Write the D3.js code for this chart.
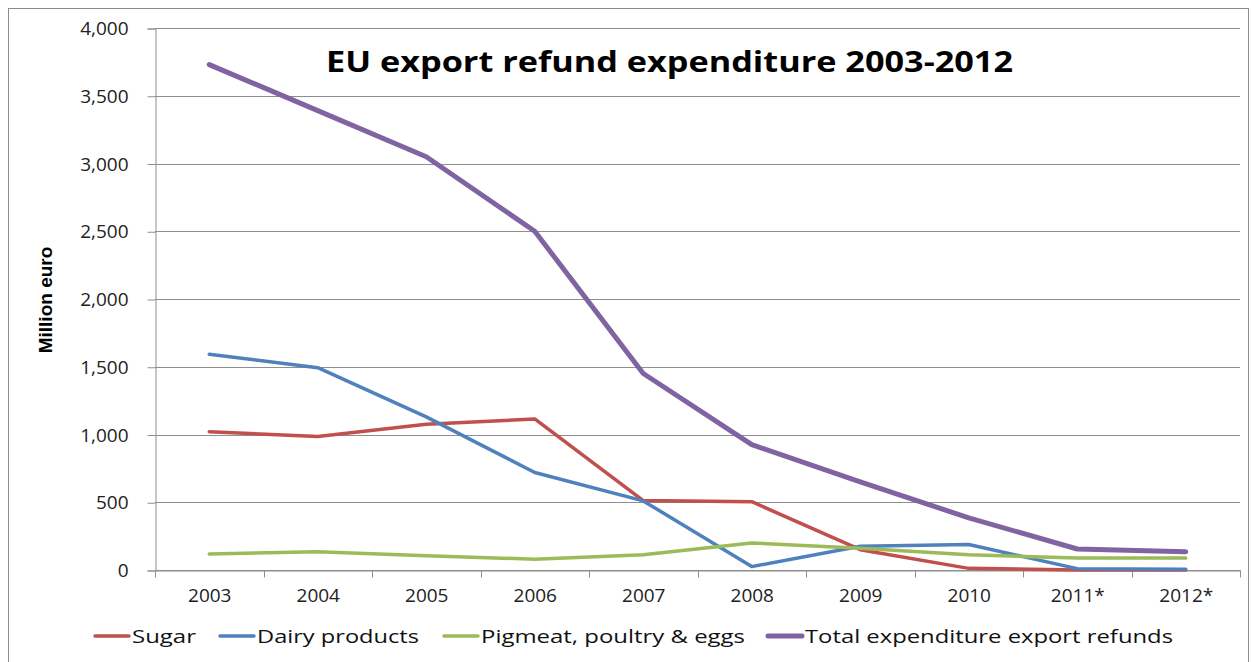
<!DOCTYPE html>
<html>
<head>
<meta charset="utf-8">
<script src="https://cdn.jsdelivr.net/npm/d3@7"></script>
<style>
  body { margin: 0; background: #fff; }
  svg { display: block; }
  .tick text { font-family: "Open Sans", "DejaVu Sans", sans-serif; }
</style>
</head>
<body>
<div id="chart"></div>
<script>
// data (million euro)
const years = ['2003', '2004', '2005', '2006', '2007', '2008', '2009', '2010', '2011*', '2012*'];
const sugar = [1020, 985, 1075, 1115, 512, 504, 150, 12, 0, 0];
const dairy = [1592, 1493, 1130, 720, 510, 25, 175, 188, 10, 5];
const pigmeat = [118, 135, 105, 80, 112, 200, 160, 112, 88, 88];
const total = [3730, 3390, 3050, 2500, 1450, 925, 650, 385, 155, 135];
const yTicks = [0, 500, 1000, 1500, 2000, 2500, 3000, 3500, 4000];

const seriesNames = ['Sugar', 'Dairy products', 'Pigmeat, poultry & eggs', 'Total expenditure export refunds'];
const seriesValues = [sugar, dairy, pigmeat, total];
const colours = ['#C0504D', '#4F81BD', '#9BBB59', '#8064A2'];
const widths = [3.5, 3.5, 3.5, 5];

const W = 1252, H = 662;
const plotLeft = 155, plotRight = 1240, plotTop = 28, plotBottom = 570;

const svg = d3.select('#chart').append('svg')
    .attr('width', W)
    .attr('height', H);

// outer frame
svg.append('rect')
    .attr('x', 8.5).attr('y', 8.5)
    .attr('width', 1240).attr('height', 660)
    .attr('fill', '#fff')
    .attr('stroke', '#8c8c8c');

const x = d3.scaleBand().domain(years).range([plotLeft, plotRight]);
const y = d3.scaleLinear().domain([0, 4000]).range([plotBottom, plotTop]);

// gridlines
svg.append('g')
    .selectAll('line')
    .data(yTicks)
    .enter()
    .append('line')
    .attr('x1', plotLeft).attr('x2', plotRight)
    .attr('y1', d => Math.round(y(d)) + 0.5)
    .attr('y2', d => Math.round(y(d)) + 0.5)
    .attr('stroke', '#8e8e8e')
    .attr('stroke-width', 1);

// y axis
const yAxis = svg.append('g')
    .attr('transform', 'translate(' + (plotLeft + 0.5) + ',0.5)')
    .call(d3.axisLeft(y).tickValues(yTicks).tickSize(8).tickPadding(19)
        .tickFormat(d3.format(',')));
yAxis.select('.domain').attr('stroke', '#8e8e8e');
yAxis.selectAll('.tick line').attr('stroke', '#8e8e8e');
yAxis.selectAll('.tick text')
    .attr('font-size', 19)
    .attr('fill', '#222');

// x axis
const xAxis = svg.append('g')
    .attr('transform', 'translate(0.5,' + (plotBottom + 0.5) + ')')
    .call(d3.axisBottom(x).tickSize(0).tickPadding(18));
xAxis.select('.domain').attr('stroke', '#8e8e8e');
xAxis.selectAll('.tick text')
    .attr('font-size', 19)
    .attr('fill', '#222');
// category separators
xAxis.append('g')
    .selectAll('line')
    .data(years.concat(['end']))
    .enter()
    .append('line')
    .attr('x1', (d, i) => Math.round(plotLeft + i * x.step()))
    .attr('x2', (d, i) => Math.round(plotLeft + i * x.step()))
    .attr('y1', 0).attr('y2', 7)
    .attr('stroke', '#8e8e8e');

// y axis title
svg.append('text')
    .attr('transform', 'translate(52,300) rotate(-90)')
    .attr('text-anchor', 'middle')
    .attr('font-family', '"Liberation Sans Narrow", "Liberation Sans", sans-serif')
    .attr('font-weight', 'bold')
    .attr('font-size', 19)
    .text('Million euro');

// title
svg.append('text')
    .attr('x', 326).attr('y', 72)
    .attr('font-family', '"Open Sans", sans-serif')
    .attr('font-weight', 'bold')
    .attr('font-size', 29)
    .attr('textLength', 687)
    .attr('lengthAdjust', 'spacingAndGlyphs')
    .text('EU export refund expenditure 2003-2012');

// lines
const line = d3.line()
    .x((d, i) => x(years[i]) + x.bandwidth() / 2)
    .y(d => y(d));

svg.append('g')
    .selectAll('path')
    .data(seriesValues)
    .enter()
    .append('path')
    .attr('d', d => line(d))
    .attr('fill', 'none')
    .attr('stroke', (d, i) => colours[i])
    .attr('stroke-width', (d, i) => widths[i])
    .attr('stroke-linejoin', 'round')
    .attr('stroke-linecap', 'round');

// legend
const legendX = [95, 220, 444, 768];
const legendText = [64, 162, 264, 368];
const legend = svg.append('g')
    .selectAll('g')
    .data(seriesNames)
    .enter()
    .append('g')
    .attr('transform', (d, i) => 'translate(' + legendX[i] + ',636)');
legend.append('line')
    .attr('x1', 0).attr('x2', 34)
    .attr('stroke', (d, i) => colours[i])
    .attr('stroke-width', (d, i) => widths[i])
    .attr('stroke-linecap', 'round');
legend.append('text')
    .attr('x', 37).attr('y', 7)
    .attr('font-family', '"Open Sans", sans-serif')
    .attr('font-size', 19)
    .attr('fill', '#111')
    .attr('textLength', (d, i) => legendText[i])
    .attr('lengthAdjust', 'spacingAndGlyphs')
    .text(d => d);
</script>
</body>
</html>
